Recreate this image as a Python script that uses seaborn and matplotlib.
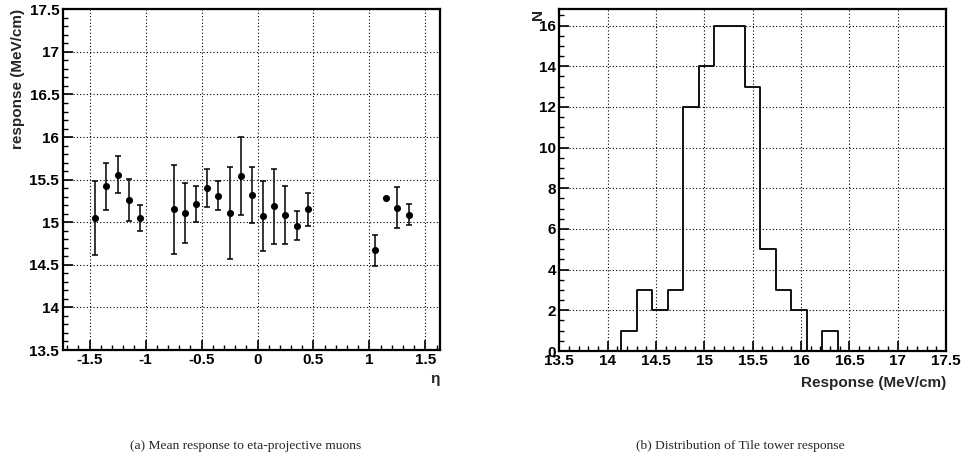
import numpy as np
import pandas as pd
import matplotlib
matplotlib.use("Agg")
import matplotlib.pyplot as plt
import seaborn as sns
from matplotlib.ticker import MultipleLocator, FormatStrFormatter

# Mean response per eta bin (left panel)
eta = [-1.45, -1.35, -1.25, -1.15, -1.05,
       -0.75, -0.65, -0.55, -0.45, -0.35, -0.25, -0.15, -0.05,
       0.05, 0.15, 0.25, 0.35, 0.45,
       1.05, 1.15, 1.25, 1.35]
response = [15.05, 15.42, 15.56, 15.26, 15.05,
            15.15, 15.11, 15.21, 15.40, 15.31, 15.11, 15.54, 15.32,
            15.07, 15.19, 15.08, 14.96, 15.15,
            14.67, 15.28, 15.17, 15.09]
response_err = [0.44, 0.28, 0.22, 0.25, 0.15,
                0.52, 0.35, 0.21, 0.22, 0.17, 0.54, 0.46, 0.33,
                0.41, 0.44, 0.34, 0.17, 0.19,
                0.18, 0.00, 0.24, 0.12]

# Tower response histogram (right panel): 25 bins from 13.5 to 17.5
hist_range = (13.5, 17.5)
n_bins = 25
counts = [0, 0, 0, 0, 1, 3, 2, 3, 12, 14, 16, 16, 13, 5, 3, 2, 0, 1,
          0, 0, 0, 0, 0, 0, 0]

sns.set_theme(style="white")
plt.rcParams["font.family"] = ["Liberation Sans", "DejaVu Sans"]
plt.rcParams["font.weight"] = "bold"
plt.rcParams["axes.unicode_minus"] = False

W, H = 961, 465
fig = plt.figure(figsize=(W / 100, H / 100), dpi=100)
fig.patch.set_facecolor("white")

LABEL_SIZE = 11


def px_axes(x0, y0, x1, y1):
    return fig.add_axes([x0 / W, 1 - y1 / H, (x1 - x0) / W, (y1 - y0) / H])


def root_style(ax, xmaj, xmin, ymaj, ymin):
    ax.set_facecolor("white")
    for s in ax.spines.values():
        s.set_color("black")
        s.set_linewidth(1.6)
        s.set_visible(True)
    ax.xaxis.set_major_locator(MultipleLocator(xmaj))
    ax.xaxis.set_minor_locator(MultipleLocator(xmin))
    ax.yaxis.set_major_locator(MultipleLocator(ymaj))
    ax.yaxis.set_minor_locator(MultipleLocator(ymin))
    ax.xaxis.set_major_formatter(FormatStrFormatter("%g"))
    ax.yaxis.set_major_formatter(FormatStrFormatter("%g"))
    ax.tick_params(which="major", direction="in", length=7, width=1.2,
                   color="black", labelsize=LABEL_SIZE, labelcolor="black",
                   pad=2.5, bottom=True, left=True, top=False, right=False)
    ax.tick_params(which="minor", direction="in", length=3.5, width=1.0,
                   color="black", bottom=True, left=True, top=False, right=False)
    for lab in ax.get_xticklabels() + ax.get_yticklabels():
        lab.set_fontweight("bold")
    ax.grid(True, which="major", color="black", linestyle=(0, (1, 2)),
            linewidth=0.8)
    ax.set_axisbelow(True)


# Left panel: mean response vs eta
ax1 = px_axes(62.7, 9.3, 440, 350)
df = pd.DataFrame({"eta": eta, "response": response, "err": response_err})
ax1.errorbar(df["eta"], df["response"], yerr=df["err"], fmt="none",
             ecolor="black", elinewidth=1.1, capsize=2, capthick=1.1, zorder=3)
sns.scatterplot(data=df, x="eta", y="response", ax=ax1, color="black",
                s=26, edgecolor="black", linewidth=0, zorder=4, legend=False)
ax1.set_xlim(-1.74, 1.63)
ax1.set_ylim(13.5, 17.5)
root_style(ax1, 0.5, 0.1, 0.5, 0.1)
ax1.set_xlabel("η", fontsize=LABEL_SIZE, fontweight="bold", loc="right")
ax1.xaxis.set_label_coords(1.0, -0.065)
ax1.set_ylabel("response (MeV/cm)", fontsize=LABEL_SIZE, fontweight="bold",
               loc="top")
ax1.yaxis.set_label_coords(-0.10, 1.0)

# Right panel: distribution of tower response
ax2 = px_axes(559.3, 9.3, 946, 351)
width = (hist_range[1] - hist_range[0]) / n_bins
centers = [hist_range[0] + (i + 0.5) * width for i in range(n_bins)]
hist_df = pd.DataFrame({"resp": centers, "n": counts})
sns.histplot(data=hist_df, x="resp", weights="n", binwidth=width,
             binrange=hist_range, element="step", fill=False, color="black",
             linewidth=1.3, ax=ax2)
ax2.set_xlim(*hist_range)
ax2.set_ylim(0, 16.8)
root_style(ax2, 0.5, 0.1, 2, 0.5)
ax2.set_xlabel("Response (MeV/cm)", fontsize=LABEL_SIZE, fontweight="bold",
               loc="right")
ax2.xaxis.set_label_coords(1.0, -0.072)
ax2.set_ylabel("N", fontsize=LABEL_SIZE, fontweight="bold", loc="top")
ax2.yaxis.set_label_coords(-0.037, 1.0)

# Sub-figure captions
fig.text(246 / W, 1 - 446 / H, "(a) Mean response to eta-projective muons",
         ha="center", va="center", fontsize=9.7, family="Liberation Serif",
         fontweight="normal")
fig.text(740 / W, 1 - 446 / H, "(b) Distribution of Tile tower response",
         ha="center", va="center", fontsize=9.7, family="Liberation Serif",
         fontweight="normal")

fig.savefig("out.png", dpi=100, facecolor="white")
